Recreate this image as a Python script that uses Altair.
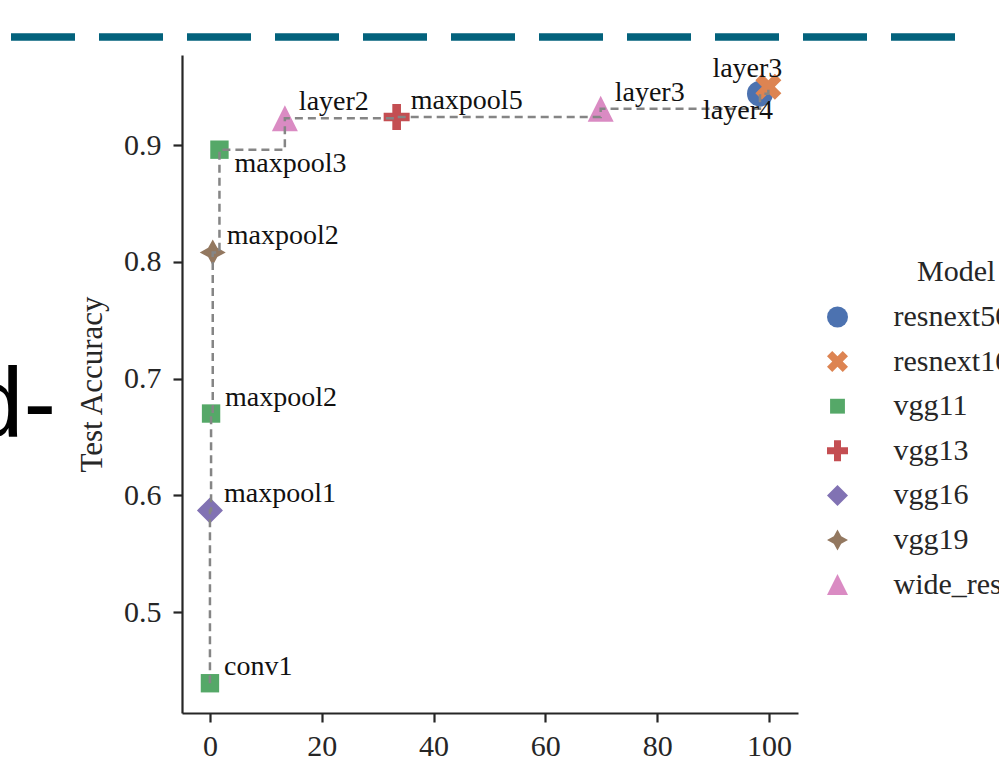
import altair as alt
import pandas as pd

# ---- data ----
models = ["vgg11", "vgg16", "vgg11", "vgg19", "vgg11",
          "wide_resnet50", "vgg13", "wide_resnet50", "resnext50", "resnext101"]
layers = ["conv1", "maxpool1", "maxpool2", "maxpool2", "maxpool3",
          "layer2", "maxpool5", "layer3", "layer4", "layer3"]
x_vals = [0.0, 0.0, 0.2, 0.5, 1.7, 13.4, 33.4, 69.9, 98.4, 99.9]
accuracy = [0.439, 0.587, 0.670, 0.808, 0.896, 0.923, 0.924, 0.931, 0.944, 0.950]

legend_order = ["resnext50", "resnext101", "vgg11", "vgg13", "vgg16", "vgg19", "wide_resnet50"]
legend_title = ["Model"]
x_ticks = [0, 20, 40, 60, 80, 100]
y_ticks = [0.5, 0.6, 0.7, 0.8, 0.9]

# ---- styles ----
palette = ["#4C72B0", "#DD8452", "#55A868", "#C44E52", "#8172B3", "#937860", "#DA8BC3"]
X_PATH = ("M-0.5,-1L0,-0.5L0.5,-1L1,-0.5L0.5,0L1,0.5L0.5,1L0,0.5L-0.5,1L-1,0.5L-0.5,0L-1,-0.5Z")
SQUARE_PATH = "M-0.707,-0.707H0.707V0.707H-0.707Z"
PLUS_PATH = ("M-0.333,-1H0.333V-0.333H1V0.333H0.333V1H-0.333V0.333H-1V-0.333H-0.333Z")
STAR_PATH = ("M0,-1L0.354,-0.354L1,0L0.354,0.354L0,1L-0.354,0.354L-1,0L-0.354,-0.354Z")
TRI_PATH = "M0,-1L1,1L-1,1Z"
shapes = ["circle", X_PATH, SQUARE_PATH, PLUS_PATH, "diamond", STAR_PATH, TRI_PATH]

# annotation placement (index -> placement); default is "above-right"
placement = {4: "below-right", 8: "below-left", 9: "above-left"}

SERIF = "Liberation Serif"
INK = "#262626"

df = pd.DataFrame({
    "idx": list(range(len(models))),
    "Model": models,
    "layer": layers,
    "x": x_vals,
    "acc": accuracy,
})
df["place"] = [placement.get(i, "above-right") for i in df["idx"]]

xs = alt.Scale(domain=[-5.0, 105.2], nice=False, zero=False)
ys = alt.Scale(domain=[0.4135, 0.9771], nice=False, zero=False)

X = alt.X("x:Q", scale=xs,
          axis=alt.Axis(values=x_ticks, title=None, format="d"))
Y = alt.Y("acc:Q", scale=ys,
          axis=alt.Axis(values=y_ticks, format=".1f", title="Test Accuracy"))

base = alt.Chart(df)

leg = alt.Legend(title=None, orient="none", legendX=640.5, legendY=247,
                 symbolSize=441, symbolOpacity=1, symbolStrokeWidth=0)

points = base.mark_point(filled=True, opacity=1, size=676, strokeWidth=0).encode(
    x=X, y=Y,
    color=alt.Color("Model:N", scale=alt.Scale(domain=legend_order, range=palette), legend=leg),
    shape=alt.Shape("Model:N", scale=alt.Scale(domain=legend_order, range=shapes), legend=leg),
)

frontier = base.mark_line(interpolate="step-after", color="#858585",
                          strokeWidth=2.5, strokeDash=[8, 5]).encode(
    x="x:Q", y="acc:Q", order="idx:Q")

def labels(place, dx, dy, align):
    return base.transform_filter(alt.datum.place == place).mark_text(
        font=SERIF, fontSize=28, color="#111111", align=align,
        baseline="middle", dx=dx, dy=dy).encode(x="x:Q", y="acc:Q", text="layer:N")

lab_ur = labels("above-right", 14, -16, "left")
lab_lr = labels("below-right", 15, 14, "left")
lab_ll = labels("below-left", 13, 17, "right")
lab_ul = labels("above-left", 14, -18, "right")

# legend title (placed like matplotlib's centred legend title)
leg_title = alt.Chart(pd.DataFrame({"t": legend_title})).mark_text(
    font=SERIF, fontSize=30, color=INK, align="left", baseline="middle").encode(
    x=alt.value(735), y=alt.value(217), text="t:N")

# decorations from the surrounding page: dashed teal border and partial text
teal = alt.Chart(pd.DataFrame({"k": [0]})).mark_rule(
    color="#03627C", strokeWidth=7.5, strokeDash=[64, 24]).encode(
    x=alt.value(-171), x2=alt.value(773), y=alt.value(-18))
side_text = alt.Chart(pd.DataFrame({"t": ["d-"]})).mark_text(
    font="Liberation Sans", fontSize=98, color="black", align="left",
    baseline="alphabetic").encode(x=alt.value(-213), y=alt.value(381), text="t:N")

chart = alt.layer(points, frontier, lab_ur, lab_lr, lab_ll, lab_ul, leg_title,
                  teal, side_text).properties(
    width=616, height=658,
    autosize=alt.AutoSizeParams(type="none"),
    padding={"left": 182, "top": 55, "right": 201, "bottom": 56},
    background="white",
).configure_view(stroke=None).configure_axis(
    grid=False, domainColor=INK, domainWidth=2.2, tickColor=INK, tickWidth=2.2,
    tickSize=9, labelFont=SERIF, labelFontSize=30, labelColor=INK,
    titleFont=SERIF, titleFontSize=31, titleFontWeight="normal", titleColor=INK,
).configure_axisY(labelPadding=12, titlePadding=15).configure_axisX(labelPadding=9).configure_legend(
    labelFont=SERIF, labelFontSize=30, labelColor=INK, labelOffset=41,
    rowPadding=14.6, padding=0, labelLimit=400,
)

chart.save("out.html", embed_options={"renderer": "svg", "actions": False})
